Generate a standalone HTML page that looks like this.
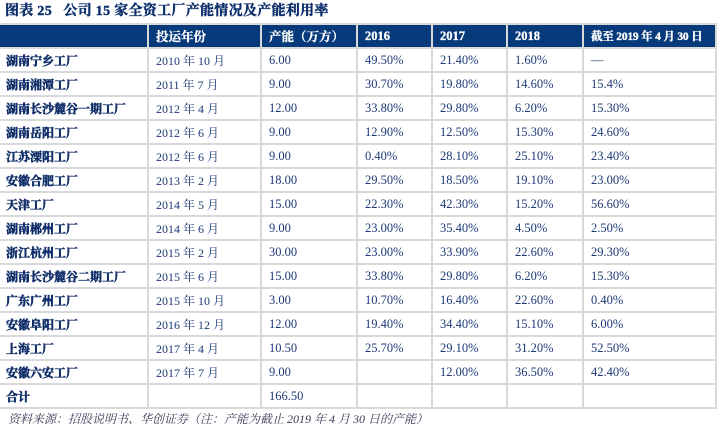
<!DOCTYPE html>
<html>
<head>
<meta charset="utf-8">
<style>
  html,body{margin:0;padding:0;background:#fff;}
  body{width:721px;height:433px;position:relative;overflow:hidden;
       font-family:"Liberation Serif","Noto Serif CJK SC",serif;}
  .title{position:absolute;left:5px;top:3px;font-size:14px;font-weight:bold;color:#0d2e6b;
         white-space:nowrap;line-height:18px;-webkit-text-stroke:0.4px #0d2e6b;letter-spacing:0.3px;}
  .grid{position:absolute;left:0;top:23px;width:717px;height:386px;box-sizing:border-box;
        background:#d9d9d9;padding:2px 2px 2px 0;display:grid;
        grid-template-columns:147px 111px 94px 73px 73px 74px 131px;
        grid-template-rows:repeat(16,22px);column-gap:2px;row-gap:2px;}
  .grid div{background:#fff;display:flex;align-items:center;padding-left:7px;
            white-space:nowrap;font-size:12.5px;color:#1d3a78;overflow:hidden;}
  .grid div.d{font-size:12px;}
  .grid div.h{background:#073a7a;color:#fff;font-weight:bold;font-size:12.5px;-webkit-text-stroke:0.3px #fff;}
  .grid div.h.s{font-size:11.5px;letter-spacing:-0.2px;}
  .grid div.n{font-weight:bold;color:#0f2d68;padding-left:6px;font-size:12px;-webkit-text-stroke:0.5px #0f2d68;}
  .foot{position:absolute;left:8px;top:411px;font-size:12px;font-style:italic;color:#3c3c5a;
        white-space:nowrap;line-height:16px;}
</style>
</head>
<body>
<div class="title">图表 25&nbsp;&nbsp; 公司 15 家全资工厂产能情况及产能利用率</div>
<div class="grid">
  <div class="h"></div><div class="h">投运年份</div><div class="h">产能（万方）</div><div class="h">2016</div><div class="h">2017</div><div class="h">2018</div><div class="h s">截至 2019 年 4 月 30 日</div>

  <div class="n">湖南宁乡工厂</div><div class="d">2010 年 10 月</div><div>6.00</div><div>49.50%</div><div>21.40%</div><div>1.60%</div><div>—</div>
  <div class="n">湖南湘潭工厂</div><div class="d">2011 年 7 月</div><div>9.00</div><div>30.70%</div><div>19.80%</div><div>14.60%</div><div>15.4%</div>
  <div class="n">湖南长沙麓谷一期工厂</div><div class="d">2012 年 4 月</div><div>12.00</div><div>33.80%</div><div>29.80%</div><div>6.20%</div><div>15.30%</div>
  <div class="n">湖南岳阳工厂</div><div class="d">2012 年 6 月</div><div>9.00</div><div>12.90%</div><div>12.50%</div><div>15.30%</div><div>24.60%</div>
  <div class="n">江苏溧阳工厂</div><div class="d">2012 年 6 月</div><div>9.00</div><div>0.40%</div><div>28.10%</div><div>25.10%</div><div>23.40%</div>
  <div class="n">安徽合肥工厂</div><div class="d">2013 年 2 月</div><div>18.00</div><div>29.50%</div><div>18.50%</div><div>19.10%</div><div>23.00%</div>
  <div class="n">天津工厂</div><div class="d">2014 年 5 月</div><div>15.00</div><div>22.30%</div><div>42.30%</div><div>15.20%</div><div>56.60%</div>
  <div class="n">湖南郴州工厂</div><div class="d">2014 年 6 月</div><div>9.00</div><div>23.00%</div><div>35.40%</div><div>4.50%</div><div>2.50%</div>
  <div class="n">浙江杭州工厂</div><div class="d">2015 年 2 月</div><div>30.00</div><div>23.00%</div><div>33.90%</div><div>22.60%</div><div>29.30%</div>
  <div class="n">湖南长沙麓谷二期工厂</div><div class="d">2015 年 6 月</div><div>15.00</div><div>33.80%</div><div>29.80%</div><div>6.20%</div><div>15.30%</div>
  <div class="n">广东广州工厂</div><div class="d">2015 年 10 月</div><div>3.00</div><div>10.70%</div><div>16.40%</div><div>22.60%</div><div>0.40%</div>
  <div class="n">安徽阜阳工厂</div><div class="d">2016 年 12 月</div><div>12.00</div><div>19.40%</div><div>34.40%</div><div>15.10%</div><div>6.00%</div>
  <div class="n">上海工厂</div><div class="d">2017 年 4 月</div><div>10.50</div><div>25.70%</div><div>29.10%</div><div>31.20%</div><div>52.50%</div>
  <div class="n">安徽六安工厂</div><div class="d">2017 年 7 月</div><div>9.00</div><div></div><div>12.00%</div><div>36.50%</div><div>42.40%</div>
  <div class="n">合计</div><div class="d"></div><div>166.50</div><div></div><div></div><div></div><div></div>
</div>
<div class="foot">资料来源：招股说明书、华创证券（注：产能为截止 2019 年 4 月 30 日的产能）</div>
</body>
</html>
